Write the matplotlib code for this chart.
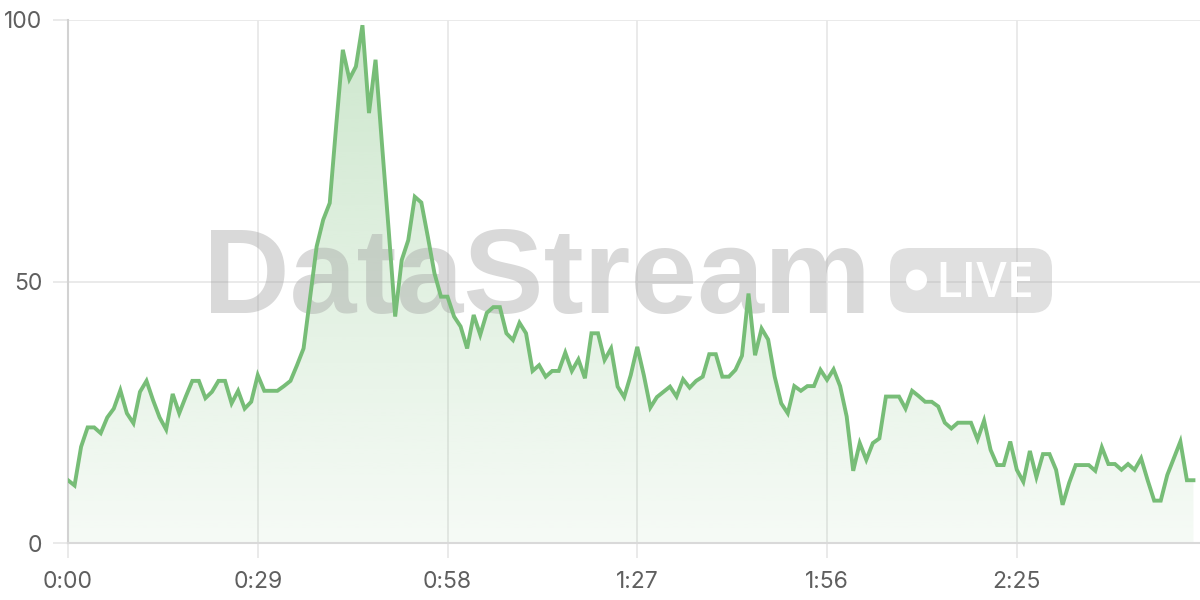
#live viewer chart with a DataStream watermark
import numpy as np
import matplotlib
matplotlib.use('Agg')
import matplotlib.pyplot as plt
from matplotlib.patches import FancyBboxPatch, Circle, PathPatch
from matplotlib.transforms import IdentityTransform

#one value per second
values = [12, 11, 18.4, 22.1, 22.1, 21, 24, 25.7, 29.2, 24.8,
          22.9, 28.9, 31, 27.3, 24, 21.7, 28.5, 24.8, 28, 31,
          31, 27.7, 28.9, 31, 31, 26.7, 29.1, 25.7, 27, 32.1,
          29.1, 29.1, 29.1, 30, 31, 34, 37.2, 47, 56.7, 61.8,
          65, 80, 94.3, 88.7, 91.1, 99, 82.2, 92.4, 76, 60,
          43.3, 54.1, 57.9, 66.2, 65.1, 58.5, 51.6, 47.1, 47.1, 43.3,
          41.4, 37.2, 43.6, 39.8, 44, 45.1, 45.1, 40.1, 38.8, 42.1,
          40.1, 32.9, 34, 31.8, 32.9, 32.9, 36.4, 32.9, 35.1, 31.5,
          40.1, 40.1, 35, 37.2, 29.9, 27.9, 32.1, 37.5, 32.1, 25.9,
          27.9, 28.9, 29.9, 28, 31.3, 29.7, 31, 31.8, 36.1, 36.1,
          31.8, 31.8, 33.1, 35.8, 47.7, 35.9, 41, 38.9, 31.8, 26.7,
          24.8, 30, 29.1, 30, 30, 33.1, 31.2, 33.2, 30, 24.2,
          13.8, 19.1, 15.9, 19.1, 20, 28, 28, 28, 25.7, 29.1,
          28.1, 27, 27, 26.1, 23, 21.9, 23, 23, 23, 19.8,
          23.4, 17.8, 14.9, 14.9, 19.4, 14, 11.7, 17.6, 12.6, 17,
          17, 14, 7.3, 11.5, 14.9, 14.9, 14.9, 13.8, 18.3, 15.1,
          15.1, 14, 15.1, 14, 16.2, 12, 8.1, 8.1, 13, 16.2,
          19.4, 12, 12]

tick_secs = [0, 29, 58, 87, 116, 145]
tick_labels = ['0:00', '0:29', '0:58', '1:27', '1:56', '2:25']
y_ticks = [0, 50, 100]

line_col = '#77bd77'
grid_col = '#e8e8e8'
text_col = '#5f5f5f'

fig = plt.figure(figsize=(12, 6), dpi=100)
ax = fig.add_axes([68/1200, 57/600, 1132/1200, 523/600])

secs = np.arange(len(values))

#gradient fill under the line, clipped to the area polygon
area = ax.fill_between(secs, values, 0, color='none', linewidth=0)
clip = PathPatch(area.get_paths()[0], transform=ax.transData,
                 facecolor='none', edgecolor='none')
ax.add_patch(clip)
alpha = np.linspace(0.07, 0.38, 256).reshape(-1, 1)
grad = np.zeros((256, 1, 4))
grad[..., 0] = 124/255
grad[..., 1] = 192/255
grad[..., 2] = 124/255
grad[..., 3] = alpha
im = ax.imshow(grad, extent=[0, 173, 0, 100], origin='lower',
               aspect='auto', zorder=1, interpolation='bilinear')
im.set_clip_path(clip)

ax.plot(secs, values, color=line_col, lw=2.8, zorder=4,
        solid_joinstyle='miter')

#watermark
ax.text(0.414, 0.44, 'DataStream', transform=ax.transAxes, ha='center',
        va='baseline', fontsize=86.5, fontweight='bold',
        family='Liberation Sans', color='#a0a0a0', alpha=0.4, zorder=2)
r = 20
badge = FancyBboxPatch((890 + r, 287 + r), 162 - 2*r, 65 - 2*r,
                       boxstyle='round,pad=%d,rounding_size=%d' % (r, r),
                       transform=IdentityTransform(), facecolor='#a0a0a0',
                       edgecolor='none', alpha=0.32, zorder=2, clip_on=False)
ax.add_patch(badge)
ax.add_patch(Circle((916.5, 320), 10.5, transform=IdentityTransform(),
                    facecolor='white', edgecolor='none', zorder=3,
                    clip_on=False))
ax.text(935, 303, 'LIVE', transform=IdentityTransform(), ha='left',
        va='baseline', fontsize=35, fontweight='semibold',
        family='Open Sans', color='white', zorder=3)

ax.set_xlim(0, 173)
ax.set_ylim(0, 100)
ax.set_xticks(tick_secs)
ax.set_xticklabels(tick_labels)
ax.set_yticks(y_ticks)

ax.set_axisbelow(True)
ax.grid(True, color=grid_col, lw=1.3)
for s in ['top', 'right']:
    ax.spines[s].set_visible(False)
ax.spines['left'].set_color('#d2d2d2')
ax.spines['left'].set_linewidth(1.5)
ax.spines['bottom'].set_color('#d9d9d9')
ax.spines['bottom'].set_linewidth(1.5)
ax.tick_params(length=10.8, width=1.3, color=grid_col, labelcolor=text_col,
               labelsize=16.5, pad=7.5)
ax.tick_params(axis='x', pad=9.5)
for lab in ax.get_xticklabels() + ax.get_yticklabels():
    lab.set_family('Inter')

fig.savefig('out.png', dpi=100)
